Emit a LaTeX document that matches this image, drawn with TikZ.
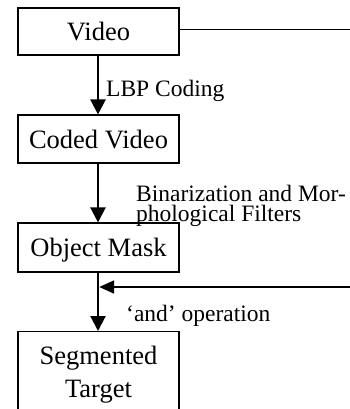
\documentclass[tikz,border=0pt]{standalone}
\usepackage{fontspec}
\setmainfont{Liberation Serif}
\usetikzlibrary{arrows.meta}
\begin{document}
\begin{tikzpicture}[x=1pt,y=1pt,
  box/.style={draw, line width=1.1pt, rectangle, minimum width=161pt, inner sep=0pt,
    font=\fontsize{26.5}{32.7}\selectfont},
  onebox/.style={box, text height=18.1pt, text depth=0pt},
  lbl/.style={inner sep=0pt, font=\fontsize{23.5}{20.5}\selectfont},
  flow/.style={line width=2.2pt, -{Triangle[width=15pt,length=15pt]}},
  hflow/.style={line width=1.8pt, -{Triangle[width=13pt,length=15pt]}}]
\path[use as bounding box, clip] (0,0) rectangle (350,-409);
\node[onebox, minimum height=47pt] (video) at (98.5,-31.5) {Video};
\node[onebox, minimum height=48pt] (coded) at (98.5,-139) {Coded Video};
\node[onebox, minimum height=49pt] (mask) at (98.5,-247.5) {Object Mask};
\node[box, anchor=north, inner ysep=15pt, align=center] (seg) at (98.5,-331) {Segmented\\Target};
\draw[flow] (video.south -| 98,0) -- (coded.north -| 98,0);
\draw[flow] (coded.south -| 98,0) -- (mask.north -| 98,0);
\draw[flow] (mask.south -| 98,0) -- (seg.north -| 98,0);
\coordinate (vr) at (350,-29.3);
\coordinate (mr) at (350,-287);
\coordinate (join) at (99.2,-287);
\draw[line width=1.2pt] (video.east |- vr) -- (vr);
\draw[hflow] (mr) -- (join);
\node[lbl, anchor=base west] (l1) at (106,-96.7) {LBP Coding};
\node[lbl, anchor=base west] (l2a) at (136,-201.5) {Binarization and Mor-};
\node[lbl, anchor=base west] (l2b) at (136,-221) {phological Filters};
\node[lbl, anchor=base west] (l3) at (126,-321.7) {`and' operation};
\end{tikzpicture}
\end{document}
